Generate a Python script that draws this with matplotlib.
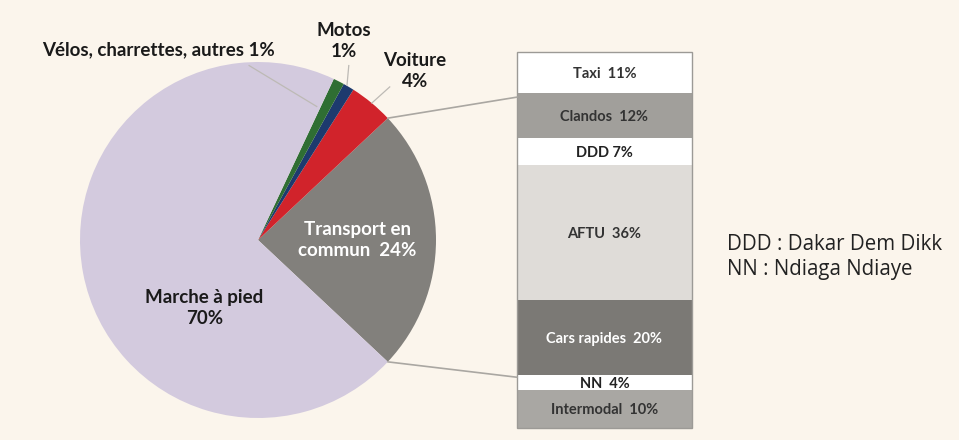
import numpy as np
import matplotlib.pyplot as plt
from matplotlib.patches import ConnectionPatch

plt.rcParams["font.family"] = ["Lato", "DejaVu Sans"]

# pie data (counter-clockwise from the transport wedge)
modes = ["Transport en\ncommun  24%", "Voiture\n4%", "Motos\n1%",
         "Vélos, charrettes, autres 1%", "Marche à pied\n70%"]
mode_share = [24, 4, 1, 1, 70]
mode_colors = ["#82807c", "#d1232b", "#1d3a6e", "#2f6e33", "#d3cade"]

# stacked bar data (top to bottom)
tc_names = ["Taxi", "Clandos", "DDD", "AFTU", "Cars rapides", "NN", "Intermodal"]
tc_share = [11, 12, 7, 36, 20, 4, 10]
tc_colors = ["#ffffff", "#a19f9b", "#ffffff", "#dfdcd8", "#7b7975", "#ffffff", "#a9a7a3"]
tc_text = ["#333333", "#333333", "#222222", "#333333", "#ffffff", "#222222", "#333333"]

notes = ["DDD : Dakar Dem Dikk", "NN : Ndiaga Ndiaye"]

BG = "#fbf5ec"
W, H = 959, 440
fig = plt.figure(figsize=(W / 100, H / 100), dpi=100, facecolor=BG)

# pie axes: centre (258, 240) px, radius 178 px
cx, cy, r = 258, 240, 178
axp = fig.add_axes([(cx - r) / W, (H - cy - r) / H, 2 * r / W, 2 * r / H])
axp.set_facecolor("none")
start = -mode_share[0] * 3.6 / 2
wedges, _ = axp.pie(mode_share, colors=mode_colors, startangle=start,
                    counterclock=True, radius=1.0)
axp.set_xlim(-1, 1)
axp.set_ylim(-1, 1)
axp.set_aspect("auto")
axp.axis("off")

lab_kw = dict(fontsize=13.5, fontweight="bold", ha="center", va="center",
              linespacing=1.3)
axp.text(0.56, 0.0, modes[0], color="white", **lab_kw)
axp.text(0.88, 0.95, modes[1], color="#1a1a1a", **lab_kw)
axp.text(0.48, 1.12, modes[2], color="#1a1a1a", **lab_kw)
axp.text(-0.56, 1.07, modes[3], color="#1a1a1a", **lab_kw)
axp.text(-0.30, -0.38, modes[4], color="#1a1a1a", **lab_kw)

# leader lines
lc = dict(color="#bdbab5", lw=0.9, clip_on=False)
axp.plot([-0.05, 0.33], [0.98, 0.75], **lc)
axp.plot([0.51, 0.50], [0.98, 0.87], **lc)
axp.plot([0.74, 0.64], [0.86, 0.77], **lc)

# stacked bar axes
bx0, bx1, by0, by1 = 517, 692, 52, 428
axb = fig.add_axes([bx0 / W, (H - by1) / H, (bx1 - bx0) / W, (by1 - by0) / H])
tops = np.concatenate([[0], np.cumsum(tc_share)[:-1]])
axb.bar([0] * len(tc_share), tc_share, bottom=tops, width=1.0,
        color=tc_colors, edgecolor="none", align="center")
axb.set_xlim(-0.5, 0.5)
axb.set_ylim(100, 0)
axb.axis("off")
for name, v, t, c in zip(tc_names, tc_share, tops, tc_text):
    sep = " " if name == "DDD" else "  "
    axb.text(0, t + v / 2 + 0.3, f"{name}{sep}{v}%", ha="center", va="center",
             fontsize=10.5, fontweight="bold", color=c)
axb.add_patch(plt.Rectangle((-0.5, 0), 1, 100, fill=False, ec="#9c9a96", lw=1.0,
                            clip_on=False))

# connectors from transport wedge to the bar
th1 = np.deg2rad(start + mode_share[0] * 3.6)
th0 = np.deg2rad(start)
for th, yb in [(th1, 12), (th0, 86.5)]:
    con = ConnectionPatch(xyA=(np.cos(th), np.sin(th)), coordsA=axp.transData,
                          xyB=(-0.5, yb), coordsB=axb.transData,
                          color="#aaa7a2", lw=1.2)
    fig.add_artist(con)

for i, s in enumerate(notes):
    fig.text(727 / W, 1 - (245 + 25 * i) / H, s, fontsize=14.8, ha="left",
             va="center", color="#222222", family=["Open Sans", "DejaVu Sans"])

fig.savefig("out.png", dpi=100, facecolor=BG)
